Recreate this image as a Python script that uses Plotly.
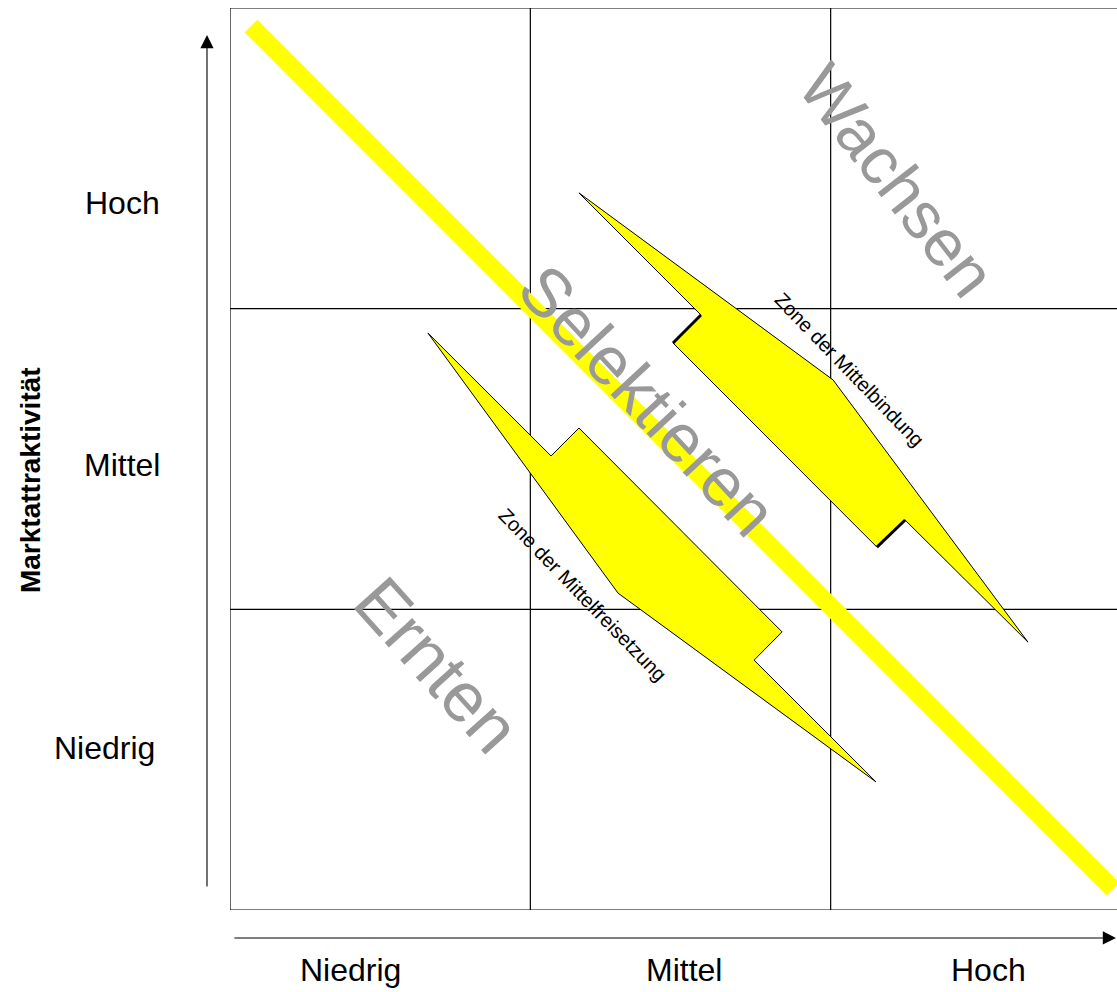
import plotly.graph_objects as go

# ---------------- data ----------------
x_tick_labels = ["Niedrig", "Mittel", "Hoch"]          # horizontal axis categories
y_tick_labels = ["Niedrig", "Mittel", "Hoch"]          # vertical axis categories
y_axis_title = "Marktattraktivität"
n_cells = 3

# diagonal band (Selektieren line)
band_x = [0.07, 2.94]
band_y = [2.94, 0.07]

# Zone der Mittelbindung polygon
bindung_x = [1.162, 2.008, 2.657, 2.248, 2.154, 1.475, 1.568, 1.162]
bindung_y = [2.385, 1.763, 0.891, 1.297, 1.207, 1.886, 1.979, 2.385]

# Zone der Mittelfreisetzung polygon
freisetzung_x = [0.659, 1.069, 1.162, 1.838, 1.745, 2.151, 1.292, 0.659]
freisetzung_y = [1.919, 1.510, 1.603, 0.925, 0.831, 0.426, 1.054, 1.919]

strategy_labels = ["Wachsen", "Selektieren", "Ernten"]
strategy_x = [2.221, 1.392, 0.689]
strategy_y = [2.428, 1.696, 0.815]

zone_labels = ["Zone der Mittelbindung", "Zone der Mittelfreisetzung"]
zone_x = [2.064, 1.175]
zone_y = [1.796, 1.048]

# ---------------- style ----------------
FONT = "Liberation Sans Narrow, Arial Narrow, Liberation Sans, Arial, sans-serif"
YELLOW = "#FFFF00"
GRAY = "#999999"

W, H = 1117, 992
ML, MT, MB = 230, 8, 82
cell_px = 300.33
x_max = (W - ML) / cell_px
y_max = n_cells


def px(xd):
    return xd / x_max


def py(yd):
    return yd / y_max


fig = go.Figure()

# band
fig.add_trace(go.Scatter(x=band_x, y=band_y, mode="lines",
                         line=dict(color=YELLOW, width=18), hoverinfo="skip"))

# polygons
fig.add_trace(go.Scatter(x=bindung_x, y=bindung_y, mode="lines", fill="toself",
                         fillcolor=YELLOW, line=dict(color="black", width=1),
                         hoverinfo="skip"))
fig.add_trace(go.Scatter(x=freisetzung_x, y=freisetzung_y, mode="lines", fill="toself",
                         fillcolor=YELLOW, line=dict(color="black", width=1),
                         hoverinfo="skip"))
# thick notch edges on the upper polygon
for i, j in [(5, 6), (3, 4)]:
    fig.add_trace(go.Scatter(x=[bindung_x[i], bindung_x[j]], y=[bindung_y[i], bindung_y[j]],
                             mode="lines", line=dict(color="black", width=3),
                             hoverinfo="skip"))

# grid
shapes = []
for k in range(n_cells + 1):
    shapes.append(dict(type="line", xref="x", yref="y", x0=k, x1=k, y0=0, y1=n_cells,
                       line=dict(color="black", width=1.2), layer="below"))
    shapes.append(dict(type="line", xref="x", yref="y", x0=0, x1=n_cells, y0=k, y1=k,
                       line=dict(color="black", width=1.2), layer="below"))

annotations = []
# strategy labels
strategy_angles = [52, 47, 48]
strategy_sizes = [66, 68, 70]
for t, x, y, a, s in zip(strategy_labels, strategy_x, strategy_y, strategy_angles, strategy_sizes):
    annotations.append(dict(x=x, y=y, xref="x", yref="y", text=t, showarrow=False,
                            textangle=a, font=dict(family=FONT, size=s, color=GRAY),
                            xanchor="center", yanchor="middle"))
# zone labels
for t, x, y in zip(zone_labels, zone_x, zone_y):
    annotations.append(dict(x=x, y=y, xref="x", yref="y", text=t, showarrow=False,
                            textangle=46, font=dict(family=FONT, size=20, color="black"),
                            xanchor="center", yanchor="middle"))

# y tick labels (positions in data units, drawn in paper coords)
y_label_pos = [0.539, 1.480, 2.351]
y_label_right = [-0.243, -0.226, -0.226]
for t, y, x in zip(y_tick_labels, y_label_pos, y_label_right):
    annotations.append(dict(x=px(x), y=py(y), xref="paper", yref="paper", text=t,
                            showarrow=False, font=dict(family=FONT, size=32, color="black"),
                            xanchor="right", yanchor="middle"))
# x tick labels
x_label_pos = [0.400, 1.512, 2.524]
for t, x in zip(x_tick_labels, x_label_pos):
    annotations.append(dict(x=px(x), y=py(-0.2), xref="paper", yref="paper", text=t,
                            showarrow=False, font=dict(family=FONT, size=32, color="black"),
                            xanchor="center", yanchor="middle"))
# y axis title
annotations.append(dict(x=px(-0.666), y=py(1.43), xref="paper", yref="paper",
                        text="<b>%s</b>" % y_axis_title, showarrow=False, textangle=-90,
                        font=dict(family=FONT, size=28, color="black"),
                        xanchor="center", yanchor="middle"))
# axis arrows
annotations.append(dict(x=px(-0.0766), y=py(2.91), xref="paper", yref="paper",
                        ax=0, ay=853, text="", showarrow=True, arrowhead=2,
                        arrowsize=2.4, arrowwidth=1.1, arrowcolor="black"))
annotations.append(dict(x=px(2.963), y=py(-0.093), xref="paper", yref="paper",
                        ax=-887, ay=0, text="", showarrow=True, arrowhead=2,
                        arrowsize=2.4, arrowwidth=1.1, arrowcolor="black"))

fig.update_layout(
    width=W, height=H,
    margin=dict(l=ML, r=0, t=MT, b=MB),
    paper_bgcolor="white", plot_bgcolor="white",
    showlegend=False,
    xaxis=dict(range=[0, x_max], visible=False, fixedrange=True),
    yaxis=dict(range=[0, y_max], visible=False, fixedrange=True),
    shapes=shapes,
    annotations=annotations,
)

fig.write_html("out.html")
